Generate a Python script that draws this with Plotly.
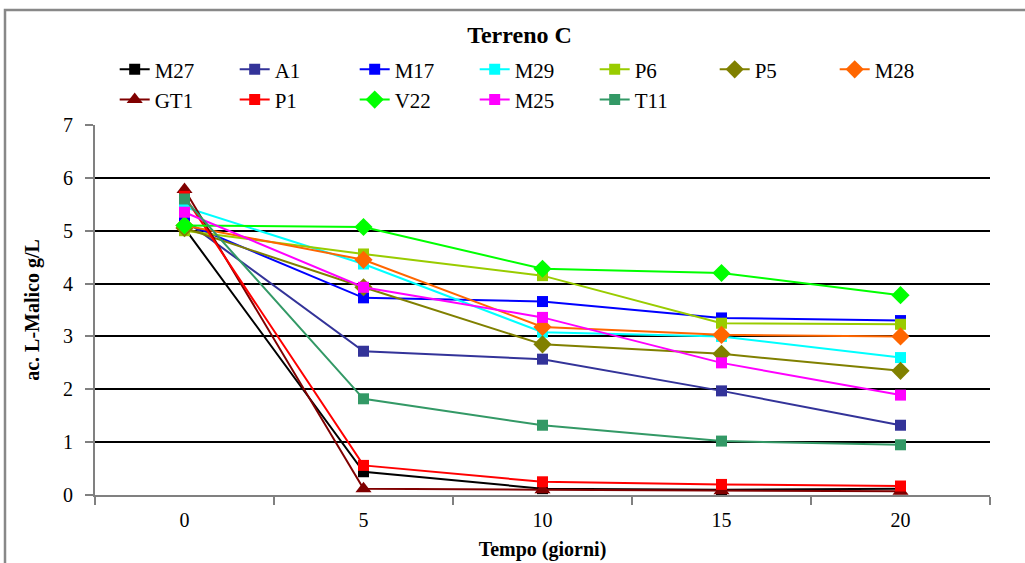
import plotly.graph_objects as go

days = ["0", "5", "10", "15", "20"]
series_names = ["M27", "A1", "M17", "M29", "P6", "P5", "M28", "GT1", "P1", "V22", "M25", "T11"]
M27 = [5.05, 0.44, 0.12, 0.10, 0.12]
A1 = [5.20, 2.72, 2.57, 1.97, 1.32]
M17 = [5.15, 3.73, 3.66, 3.35, 3.30]
M29 = [5.45, 4.37, 3.08, 3.00, 2.60]
P6 = [5.00, 4.56, 4.15, 3.25, 3.23]
P5 = [5.05, 3.93, 2.85, 2.67, 2.35]
M28 = [5.10, 4.45, 3.18, 3.03, 3.00]
GT1 = [5.78, 0.12, 0.10, 0.08, 0.07]
P1 = [5.65, 0.56, 0.25, 0.20, 0.17]
V22 = [5.10, 5.07, 4.28, 4.20, 3.78]
M25 = [5.35, 3.93, 3.36, 2.50, 1.89]
T11 = [5.60, 1.82, 1.32, 1.02, 0.95]
values = [M27, A1, M17, M29, P6, P5, M28, GT1, P1, V22, M25, T11]

colors = ["#000000", "#333399", "#0000FF", "#00FFFF", "#99CC00", "#808000",
          "#FF6600", "#800000", "#FF0000", "#00FF00", "#FF00FF", "#339966"]
symbols = ["square", "square", "square", "square", "square", "diamond",
           "diamond", "triangle-up", "square", "diamond", "square", "square"]

FONT = "'Liberation Serif', 'Times New Roman', 'DejaVu Serif', serif"

fig = go.Figure()
for name, vals, col, sym in zip(series_names, values, colors, symbols):
    size = 11 if sym == "square" else 14
    fig.add_trace(go.Scatter(
        x=days, y=vals, name=name, mode="lines+markers",
        line=dict(color=col, width=2),
        marker=dict(symbol=sym, size=size, color=col, line=dict(width=0)),
    ))

fig.update_layout(
    width=1025, height=563,
    margin=dict(l=95, r=35, t=125, b=68, autoexpand=False),
    paper_bgcolor="white", plot_bgcolor="white",
    font=dict(family=FONT, color="black", size=20),
    title=dict(text="<b>Terreno C</b>", x=519.5 / 1025, xanchor="center",
               y=1 - 35 / 563, yanchor="middle", xref="container", yref="container",
               font=dict(family=FONT, size=24, color="black")),
    showlegend=True,
    legend=dict(orientation="h", x=0.022, xanchor="left", y=1.205, yanchor="top",
                font=dict(family=FONT, size=21, color="black"),
                entrywidth=75, entrywidthmode="pixels",
                bgcolor="rgba(0,0,0,0)", tracegroupgap=0, itemsizing="trace"),
    xaxis=dict(type="category", categoryorder="array", categoryarray=days,
               range=[-0.5, 4.5], automargin=False,
               showline=True, linecolor="#808080", linewidth=2,
               ticks="outside", tickson="boundaries", ticklen=8,
               tickcolor="#808080", tickwidth=1.5,
               ticklabelstandoff=6,
               showgrid=False, zeroline=False,
               tickfont=dict(family=FONT, size=20, color="black"),
               title=dict(text="<b>Tempo (giorni)</b>", standoff=12,
                          font=dict(family=FONT, size=20, color="black"))),
    yaxis=dict(range=[0, 7], dtick=1, tick0=0, automargin=False,
               showline=True, linecolor="#808080", linewidth=2,
               ticks="outside", ticklen=8, tickcolor="#808080", tickwidth=1.5,
               ticklabelstandoff=8,
               showgrid=True, gridcolor="black", gridwidth=1.5,
               zeroline=False,
               tickfont=dict(family=FONT, size=20, color="black"),
               title=dict(text="<b>ac. L-Malico g/L</b>", standoff=18,
                          font=dict(family=FONT, size=20, color="black"))),
    shapes=[dict(type="rect", xref="paper", yref="paper",
                 x0=(5 - 95) / 895, x1=1.2, y0=-0.4, y1=(495 - 10) / 370,
                 line=dict(color="#888888", width=2.5), fillcolor="rgba(0,0,0,0)",
                 layer="above")],
)

fig.write_html("out.html")
